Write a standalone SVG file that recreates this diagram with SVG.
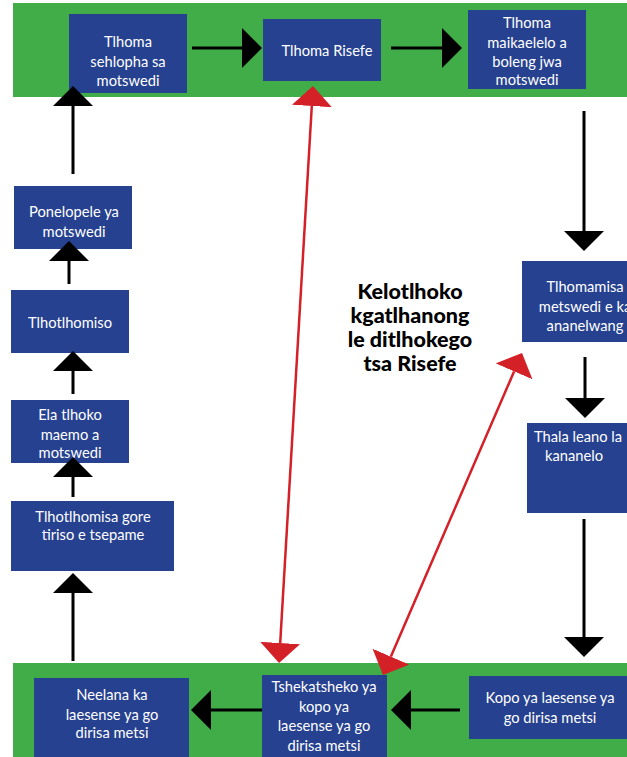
<svg xmlns="http://www.w3.org/2000/svg" width="627" height="757" viewBox="0 0 627 757">
<style>
.band{fill:#40AD48}
.box{fill:#26418F}
.t{font-family:Lato,"Liberation Sans",sans-serif;font-size:14.7px;fill:#ffffff;text-anchor:middle}
.c{stroke:#000;stroke-width:3;fill:none}
.r{stroke:#D42027;stroke-width:2.5;fill:none}
.title{font-family:Lato,"Liberation Sans",sans-serif;font-size:21.5px;font-weight:900;fill:#000;text-anchor:middle}
</style>
<defs>
<marker id="ah" markerUnits="userSpaceOnUse" viewBox="0 0 20 40" refX="0" refY="20" markerWidth="20" markerHeight="40" orient="auto-start-reverse">
<path d="M0,0 L20,20 L0,40 Z" fill="#000"/>
</marker>
<marker id="rh" markerUnits="userSpaceOnUse" viewBox="0 0 20 40" refX="0" refY="20" markerWidth="20" markerHeight="40" orient="auto-start-reverse">
<path d="M0,0 L20,20 L0,40 Z" fill="#D42027"/>
</marker>
</defs>
<rect class="band" x="13" y="3" width="614" height="94"/>
<rect class="band" x="13" y="663" width="614" height="94"/>
<g id="n1"><rect class="box" x="69" y="14" width="118" height="79"/>
<text class="t" x="128" y="47">Tlhoma</text><text class="t" x="128" y="67">sehlopha sa</text><text class="t" x="128" y="86">motswedi</text></g>
<g id="n2"><rect class="box" x="263" y="19" width="118" height="62"/>
<text class="t" x="327" y="56">Tlhoma Risefe</text></g>
<g id="n3"><rect class="box" x="468" y="10" width="118" height="79"/>
<text class="t" x="527" y="28">Tlhoma</text><text class="t" x="527" y="48">maikaelelo a</text><text class="t" x="527" y="67">boleng jwa</text><text class="t" x="527" y="85">motswedi</text></g>
<g id="n4"><rect class="box" x="522" y="261" width="120" height="81"/>
<text class="t" x="585" y="292">Tlhomamisa</text><text class="t" x="585" y="312">metswedi e ka</text><text class="t" x="585" y="331">ananelwang</text></g>
<g id="n5"><rect class="box" x="527" y="423" width="115" height="90"/>
<text class="t" x="578" y="442">Thala leano la</text><text class="t" x="574" y="461">kananelo</text></g>
<g id="n6"><rect class="box" x="469" y="676" width="160" height="63"/>
<text class="t" x="550" y="703">Kopo ya laesense ya</text><text class="t" x="550" y="723">go dirisa metsi</text></g>
<g id="n7"><rect class="box" x="262" y="675" width="125" height="82"/>
<text class="t" x="324" y="692">Tshekatsheko ya</text><text class="t" x="324" y="712">kopo ya</text><text class="t" x="324" y="731">laesense ya go</text><text class="t" x="324" y="751">dirisa metsi</text></g>
<g id="n8"><rect class="box" x="34" y="678" width="155" height="79"/>
<text class="t" x="112" y="700">Neelana ka</text><text class="t" x="112" y="720">laesense ya go</text><text class="t" x="112" y="738">dirisa metsi</text></g>
<g id="n9"><rect class="box" x="11" y="501" width="163" height="70"/>
<text class="t" x="93" y="522">Tlhotlhomisa gore</text><text class="t" x="93" y="540">tiriso e tsepame</text></g>
<g id="n10"><rect class="box" x="11" y="400" width="118" height="63"/>
<text class="t" x="70" y="420">Ela tlhoko</text><text class="t" x="70" y="440">maemo a</text><text class="t" x="70" y="458">motswedi</text></g>
<g id="n11"><rect class="box" x="11" y="290" width="118" height="63"/>
<text class="t" x="70" y="328">Tlhotlhomiso</text></g>
<g id="n12"><rect class="box" x="14" y="186" width="118" height="63"/>
<text class="t" x="74" y="217">Ponelopele ya</text><text class="t" x="74" y="237">motswedi</text></g>
<g id="n13"><text class="title" x="410" y="299">Kelotlhoko</text><text class="title" x="410" y="323">kgatlhanong</text><text class="title" x="410" y="347">le ditlhokego</text><text class="title" x="410" y="371">tsa Risefe</text></g>
<g id="connectors">
<line class="c" x1="192" y1="48" x2="242" y2="48" marker-end="url(#ah)"/>
<line class="c" x1="391" y1="48" x2="442" y2="48" marker-end="url(#ah)"/>
<line class="c" x1="584" y1="111" x2="584" y2="231" marker-end="url(#ah)"/>
<line class="c" x1="585" y1="357" x2="585" y2="398" marker-end="url(#ah)"/>
<line class="c" x1="584" y1="519" x2="584" y2="637" marker-end="url(#ah)"/>
<line class="c" x1="460" y1="710" x2="411" y2="710" marker-end="url(#ah)"/>
<line class="c" x1="262" y1="710" x2="211" y2="710" marker-end="url(#ah)"/>
<line class="c" x1="73" y1="661" x2="73" y2="593" marker-end="url(#ah)"/>
<line class="c" x1="73" y1="497" x2="73" y2="477" marker-end="url(#ah)"/>
<line class="c" x1="73" y1="394" x2="73" y2="371" marker-end="url(#ah)"/>
<line class="c" x1="69" y1="284" x2="69" y2="261" marker-end="url(#ah)"/>
<line class="c" x1="73" y1="174" x2="73" y2="106" marker-end="url(#ah)"/>
<line class="r" x1="311.8" y1="106" x2="280.2" y2="643" marker-start="url(#rh)" marker-end="url(#rh)"/>
<line class="r" x1="514.1" y1="371.4" x2="390.9" y2="656.6" marker-start="url(#rh)" marker-end="url(#rh)"/>
</g>
</svg>
